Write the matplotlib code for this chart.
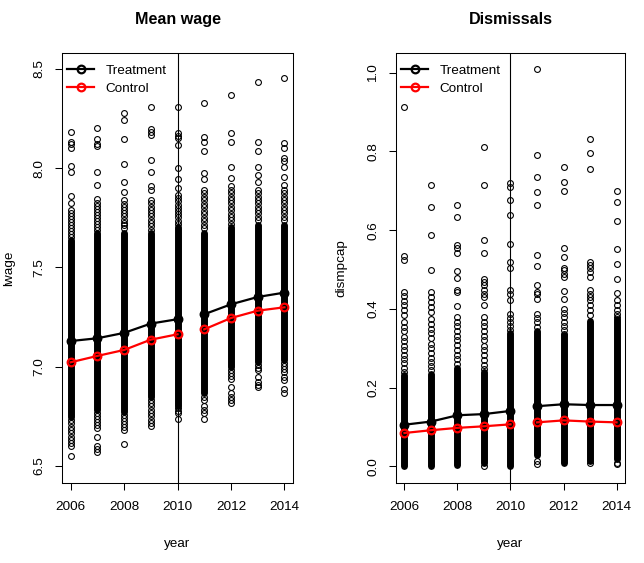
import matplotlib.pyplot as plt

plt.rcParams['font.family'] = ['Liberation Sans', 'DejaVu Sans']

# years and group means
years = [2006, 2007, 2008, 2009, 2010, 2011, 2012, 2013, 2014]
treat_lwage = [7.129, 7.143, 7.170, 7.217, 7.239, 7.264, 7.314, 7.351, 7.373]
ctrl_lwage = [7.022, 7.054, 7.084, 7.136, 7.163, 7.188, 7.245, 7.282, 7.299]
treat_disp = [0.106, 0.114, 0.130, 0.133, 0.141, 0.153, 0.158, 0.156, 0.156]
ctrl_disp = [0.085, 0.092, 0.098, 0.102, 0.107, 0.112, 0.117, 0.114, 0.112]

# firm level observations: dense part of each column (lo, hi) ...
lwage_lo = [6.748, 6.782, 6.773, 6.849, 6.800, 6.866, 7.000, 7.025, 7.034]
lwage_hi = [7.638, 7.673, 7.673, 7.673, 7.703, 7.673, 7.703, 7.713, 7.713]
# ... and the single circles outside it
lwage_pts = [
    [8.183, 8.133, 8.120, 8.100, 8.012, 7.980, 7.860, 7.823, 7.789, 7.775, 7.760, 7.745,
     7.730, 7.715, 7.700, 7.685, 7.670, 7.655, 6.732, 6.715, 6.698, 6.681, 6.664, 6.648,
     6.631, 6.614, 6.601, 6.549],
    [8.202, 8.145, 8.121, 8.111, 7.978, 7.913, 7.843, 7.823, 7.808, 7.793, 7.778, 7.763,
     7.748, 7.733, 7.718, 7.703, 7.688, 6.767, 6.752, 6.737, 6.722, 6.707, 6.692, 6.648,
     6.601, 6.584, 6.570],
    [8.277, 8.242, 8.145, 8.021, 7.928, 7.880, 7.839, 7.820, 7.805, 7.790, 7.772, 7.757,
     7.741, 7.726, 7.712, 7.696, 6.758, 6.743, 6.728, 6.713, 6.698, 6.683, 6.611],
    [8.308, 8.195, 8.183, 8.167, 8.039, 7.980, 7.910, 7.890, 7.839, 7.822, 7.806, 7.790,
     7.773, 7.757, 7.740, 7.722, 7.706, 7.690, 6.834, 6.818, 6.800, 6.784, 6.767, 6.750,
     6.733, 6.717, 6.701],
    [8.306, 8.175, 8.163, 8.150, 8.115, 8.001, 7.944, 7.898, 7.865, 7.849, 7.833, 7.816,
     7.800, 7.784, 7.768, 7.752, 7.736, 7.720, 6.790, 6.777, 6.765, 6.735],
    [8.328, 8.155, 8.133, 8.088, 7.977, 7.944, 7.890, 7.873, 7.855, 7.838, 7.820, 7.803,
     7.785, 7.768, 7.750, 7.733, 7.715, 7.698, 6.849, 6.832, 6.802, 6.782, 6.765, 6.737],
    [8.370, 8.175, 8.133, 8.006, 7.950, 7.910, 7.890, 7.873, 7.856, 7.839, 7.822, 7.805,
     7.788, 7.771, 7.754, 7.737, 7.720, 6.985, 6.970, 6.955, 6.940, 6.899, 6.866, 6.849,
     6.832, 6.816],
    [8.432, 8.133, 8.086, 8.007, 7.967, 7.932, 7.890, 7.873, 7.856, 7.840, 7.823, 7.806,
     7.789, 7.772, 7.755, 7.738, 7.010, 6.995, 6.983, 6.950, 6.924, 6.908, 6.899],
    [8.455, 8.125, 8.100, 8.049, 8.037, 8.004, 7.954, 7.915, 7.890, 7.873, 7.856, 7.840,
     7.823, 7.806, 7.789, 7.772, 7.755, 7.738, 7.019, 7.004, 6.990, 6.975, 6.950, 6.933,
     6.886, 6.866],
]

disp_lo = [0.002, 0.002, 0.003, 0.008, 0.002, 0.028, 0.010, 0.015, 0.018]
disp_hi = [0.231, 0.236, 0.250, 0.240, 0.340, 0.345, 0.333, 0.370, 0.375]
disp_pts = [
    [0.912, 0.534, 0.524, 0.443, 0.432, 0.421, 0.410, 0.398, 0.385, 0.366, 0.355, 0.343,
     0.330, 0.318, 0.306, 0.295, 0.284, 0.272, 0.262, 0.251, 0.240],
    [0.714, 0.659, 0.587, 0.498, 0.443, 0.430, 0.417, 0.405, 0.392, 0.375, 0.362, 0.350,
     0.338, 0.325, 0.312, 0.300, 0.288, 0.276, 0.265, 0.255, 0.245],
    [0.663, 0.634, 0.562, 0.554, 0.541, 0.497, 0.479, 0.448, 0.443, 0.407, 0.380, 0.368,
     0.356, 0.344, 0.332, 0.320, 0.308, 0.296, 0.284, 0.272, 0.260],
    [0.812, 0.714, 0.576, 0.541, 0.477, 0.469, 0.460, 0.448, 0.439, 0.431, 0.409, 0.380,
     0.368, 0.356, 0.344, 0.332, 0.320, 0.307, 0.295, 0.282, 0.270, 0.258, 0.248, 0.0],
    [0.719, 0.709, 0.676, 0.639, 0.564, 0.520, 0.503, 0.448, 0.439, 0.422, 0.388, 0.376,
     0.366, 0.356, 0.347],
    [1.009, 0.792, 0.734, 0.698, 0.664, 0.536, 0.509, 0.460, 0.443, 0.439, 0.425, 0.388,
     0.377, 0.366, 0.354, 0.015, 0.005],
    [0.760, 0.722, 0.699, 0.556, 0.532, 0.504, 0.498, 0.489, 0.481, 0.445, 0.426, 0.401,
     0.390, 0.379, 0.368, 0.357, 0.346, 0.337],
    [0.832, 0.797, 0.756, 0.520, 0.511, 0.503, 0.494, 0.481, 0.448, 0.439, 0.430, 0.422,
     0.409, 0.398, 0.385, 0.010],
    [0.699, 0.672, 0.624, 0.551, 0.514, 0.477, 0.441, 0.422, 0.410, 0.398, 0.388, 0.380,
     0.010, 0.005],
]


def panel(ax, lo, hi, pts, treat, ctrl, title, ylab, yticks, ylim):
    # dense columns of overlapping circles
    ax.vlines(years, lo, hi, color='black', lw=5, capstyle='round', zorder=2)
    for yr, vals in zip(years, pts):
        ax.plot([yr] * len(vals), vals, 'o', ms=4.2, mfc='none', mec='black',
                mew=0.8, zorder=2)
    ax.axvline(2010, color='black', lw=0.8, zorder=3)
    # means, broken between 2010 and 2011
    for part in (slice(0, 5), slice(5, 9)):
        lab_t = 'Treatment' if part.start == 0 else None
        lab_c = 'Control' if part.start == 0 else None
        ax.plot(years[part], treat[part], '-o', color='black', lw=1.6, ms=5.5,
                mfc='none', mew=1.6, zorder=4, label=lab_t)
        ax.plot(years[part], ctrl[part], '-o', color='red', lw=1.6, ms=5.5,
                mfc='none', mew=1.6, zorder=5, label=lab_c)
    ax.set_xlim(2005.68, 2014.32)
    ax.set_ylim(*ylim)
    ax.set_xticks([2006, 2008, 2010, 2012, 2014])
    ax.set_yticks(yticks)
    ax.set_yticklabels(['%.1f' % t for t in yticks], rotation=90, va='center')
    ax.tick_params(direction='out', length=5, width=0.75, labelsize=9.7, pad=7)
    ax.tick_params(axis='x', pad=8)
    for s in ax.spines.values():
        s.set_linewidth(0.75)
    ax.set_title(title, fontsize=11.6, fontweight='bold', y=1.079, va='center', pad=0)
    ax.set_xlabel('year', fontsize=9.7)
    ax.set_ylabel(ylab, fontsize=9.7)
    ax.xaxis.set_label_coords(0.5, -0.127)
    ax.legend(loc='upper left', bbox_to_anchor=(0.0, 0.986), frameon=False,
              fontsize=9.7, handlelength=1.95, handletextpad=0.9, borderaxespad=0.3,
              borderpad=0.1, labelspacing=0.42)


fig = plt.figure(figsize=(6.44, 5.63), dpi=100)
ax1 = fig.add_axes([0.0963, 0.1421, 0.3587, 0.7638])
ax2 = fig.add_axes([0.6149, 0.1421, 0.3556, 0.7638])

panel(ax1, lwage_lo, lwage_hi, lwage_pts, treat_lwage, ctrl_lwage, 'Mean wage', 'lwage',
      [6.5, 7.0, 7.5, 8.0, 8.5], (6.414, 8.580))
ax1.yaxis.set_label_coords(-0.205, 0.5)
panel(ax2, disp_lo, disp_hi, disp_pts, treat_disp, ctrl_disp, 'Dismissals', 'dismpcap',
      [0.0, 0.2, 0.4, 0.6, 0.8, 1.0], (-0.042, 1.050))
ax2.yaxis.set_label_coords(-0.214, 0.5)

plt.savefig('out.png', dpi=100)
